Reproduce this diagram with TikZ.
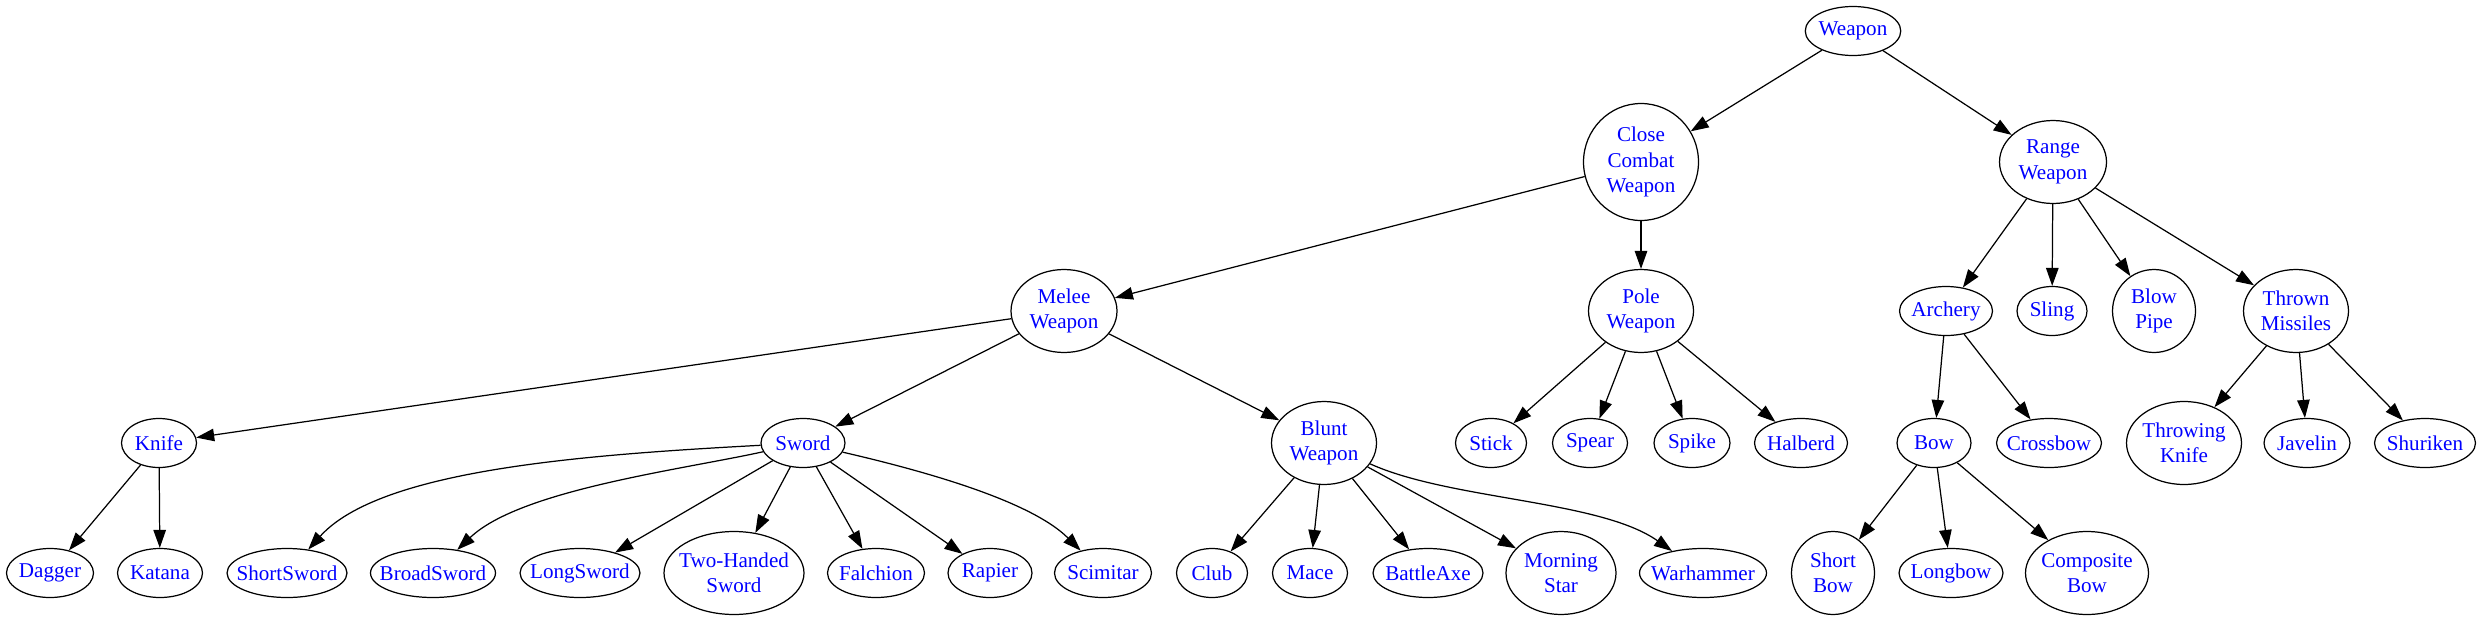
\documentclass[tikz,border=0pt]{standalone}
\usepackage{fontspec}
\setmainfont{Liberation Serif}
\usetikzlibrary{shapes.geometric, arrows.meta}
\definecolor{labelblue}{RGB}{0,0,255}

\tikzset{
  wnode/.style={ellipse, draw, line width=0.7pt, text=labelblue, align=center,
    inner xsep=-1cm, inner ysep=-0.4cm, font=\fontsize{12}{14.5}\selectfont},
  one/.style={minimum height=0.98cm},
  two/.style={minimum height=1.66cm},
  link/.style={line width=0.7pt, -{Triangle[length=0.36cm,width=0.25cm]}}
}

\begin{document}
\begin{tikzpicture}[x=0.02cm, y=-0.02cm]
\useasboundingbox (0,0) rectangle (2481,619);

% top levels
\node[wnode, one, minimum width=1.91cm] (weapon) at (1853,31) {Weapon};
\node[wnode, minimum width=2.30cm, minimum height=2.34cm] (close) at (1641,162) {Close\\Combat\\Weapon};
\node[wnode, two, minimum width=2.14cm] (range) at (2053,162) {Range\\Weapon};

\node[wnode, two, minimum width=2.12cm] (melee) at (1064,311) {Melee\\Weapon};
\node[wnode, two, minimum width=2.10cm] (pole) at (1641,311) {Pole\\Weapon};
\node[wnode, one, minimum width=1.86cm] (archery) at (1946,311) {Archery};
\node[wnode, one, minimum width=1.40cm] (sling) at (2052,311) {Sling};
\node[wnode, two, minimum width=1.66cm] (blowpipe) at (2154,311) {Blow\\Pipe};
\node[wnode, two, minimum width=2.10cm] (thrown) at (2296,311) {Thrown\\Missiles};

% third level
\node[wnode, one, minimum width=1.50cm] (knife) at (159,443) {Knife};
\node[wnode, one, minimum width=1.68cm] (sword) at (803,443) {Sword};
\node[wnode, two, minimum width=2.10cm] (blunt) at (1324,443) {Blunt\\Weapon};
\node[wnode, one, minimum width=1.42cm] (stick) at (1491,443) {Stick};
\node[wnode, one, minimum width=1.50cm] (spear) at (1590,443) {Spear};
\node[wnode, one, minimum width=1.52cm] (spike) at (1692,443) {Spike};
\node[wnode, one, minimum width=1.86cm] (halberd) at (1801,443) {Halberd};
\node[wnode, one, minimum width=1.48cm] (bow) at (1934,443) {Bow};
\node[wnode, one, minimum width=2.10cm] (crossbow) at (2049,443) {Crossbow};
\node[wnode, two, minimum width=2.30cm] (throwknife) at (2184,443) {Throwing\\Knife};
\node[wnode, one, minimum width=1.72cm] (javelin) at (2307,443) {Javelin};
\node[wnode, one, minimum width=2.02cm] (shuriken) at (2425,443) {Shuriken};

% leaves
\node[wnode, one, minimum width=1.74cm] (dagger) at (50,573) {Dagger};
\node[wnode, one, minimum width=1.70cm] (katana) at (160,573) {Katana};
\node[wnode, one, minimum width=2.40cm] (shortsword) at (287,573) {ShortSword};
\node[wnode, one, minimum width=2.50cm] (broadsword) at (433,573) {BroadSword};
\node[wnode, one, minimum width=2.40cm] (longsword) at (580,573) {LongSword};
\node[wnode, two, minimum width=2.80cm] (twohanded) at (734,573) {Two-Handed\\Sword};
\node[wnode, one, minimum width=1.94cm] (falchion) at (876,573) {Falchion};
\node[wnode, one, minimum width=1.68cm] (rapier) at (990,573) {Rapier};
\node[wnode, one, minimum width=1.94cm] (scimitar) at (1103,573) {Scimitar};
\node[wnode, one, minimum width=1.42cm] (club) at (1212,573) {Club};
\node[wnode, one, minimum width=1.50cm] (mace) at (1310,573) {Mace};
\node[wnode, one, minimum width=2.20cm] (battleaxe) at (1428,573) {BattleAxe};
\node[wnode, two, minimum width=2.20cm] (morningstar) at (1561,573) {Morning\\Star};
\node[wnode, one, minimum width=2.54cm] (warhammer) at (1703,573) {Warhammer};
\node[wnode, two, minimum width=1.66cm] (shortbow) at (1833,573) {Short\\Bow};
\node[wnode, one, minimum width=2.08cm] (longbow) at (1951,573) {Longbow};
\node[wnode, two, minimum width=2.46cm] (compositebow) at (2087,573) {Composite\\Bow};

% straight links
\foreach \a/\b in {weapon/close, weapon/range, close/melee, close/pole,
    range/archery, range/sling, range/blowpipe, range/thrown,
    melee/knife, melee/sword, melee/blunt,
    pole/stick, pole/spear, pole/spike, pole/halberd,
    archery/bow, archery/crossbow, thrown/throwknife, thrown/javelin, thrown/shuriken,
    knife/dagger, knife/katana, sword/longsword, sword/twohanded, sword/falchion, sword/rapier,
    blunt/club, blunt/mace, blunt/battleaxe, blunt/morningstar,
    bow/shortbow, bow/longbow, bow/compositebow}
  \draw[link] (\a) -- (\b);

% curved links
\draw[link] (sword) .. controls (580,455) and (380,470) .. (shortsword);
\draw[link] (sword) .. controls (680,470) and (520,490) .. (broadsword);
\draw[link] (sword) .. controls (920,470) and (1030,500) .. (scimitar);
\draw[link] (blunt) .. controls (1450,500) and (1600,500) .. (warhammer);
\end{tikzpicture}
\end{document}
